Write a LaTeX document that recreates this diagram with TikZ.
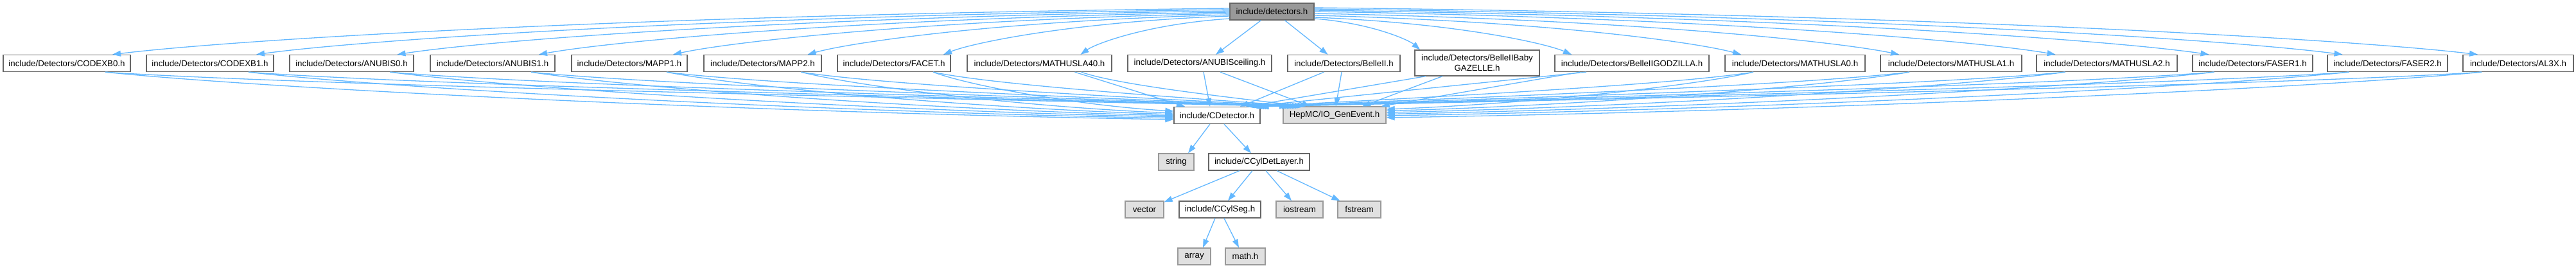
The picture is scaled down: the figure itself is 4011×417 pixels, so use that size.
\documentclass[tikz,border=0pt]{standalone}
\usepackage{fontspec}
\setmainfont{Liberation Sans}
\usetikzlibrary{arrows.meta,calc}
\definecolor{cdk}{HTML}{666666}
\definecolor{cmd}{HTML}{999999}
\definecolor{clt}{HTML}{E0E0E0}
\definecolor{cedge}{HTML}{63B8FF}
\newcommand{\myedge}[6]{%
 \draw[dep] let \p1=(#1), \p2=(#2) in (\p1) .. controls ({\x1+#3*(\x2-\x1)},{\y1+#4*(\y2-\y1)}) and ({\x2-#5*(\x2-\x1)},{\y2-#6*(\y2-\y1)}) .. (\p2);}
\tikzset{
 nbox/.style={draw=cdk, fill=white, line width=1.3pt, inner sep=0pt, minimum height=26pt, font=\fontsize{13.3}{16}\selectfont, text=black, align=center},
 ext/.style={nbox, draw=cmd, fill=clt},
 root/.style={nbox, fill=cmd, draw=cdk},
 dep/.style={draw=cedge, line width=1.3pt, -{Triangle[length=13pt,width=9pt]}}
}
\begin{document}
\begin{tikzpicture}[x=1pt,y=1pt]
\fill[white] (0,0) rectangle (4011,-417);
\useasboundingbox (0,0) rectangle (4011,-417);
% root
\node[root, minimum width=131pt] (top) at (1980.5,-18) {include/detectors.h};
% row 2
\node[nbox, minimum width=198pt] (cb0) at (104,-98.5) {include/Detectors/CODEXB0.h};
\node[nbox, minimum width=198pt] (cb1) at (327,-98.5) {include/Detectors/CODEXB1.h};
\node[nbox, minimum width=193pt] (an0) at (547.5,-98.5) {include/Detectors/ANUBIS0.h};
\node[nbox, minimum width=194pt] (an1) at (767,-98.5) {include/Detectors/ANUBIS1.h};
\node[nbox, minimum width=180pt] (mp1) at (980,-98.5) {include/Detectors/MAPP1.h};
\node[nbox, minimum width=183pt] (mp2) at (1187.5,-98.5) {include/Detectors/MAPP2.h};
\node[nbox, minimum width=176pt] (fac) at (1392,-98.5) {include/Detectors/FACET.h};
\node[nbox, minimum width=225pt] (m40) at (1618.5,-98.5) {include/Detectors/MATHUSLA40.h};
\node[nbox, minimum width=224pt] (anc) at (1868,-98.5) {include/Detectors/ANUBISceiling.h};
\node[nbox, minimum width=175pt] (b2) at (2092.5,-98.5) {include/Detectors/BelleII.h};
\node[nbox, minimum width=194pt, minimum height=40pt] (gaz) at (2300,-98) {include/Detectors/BelleIIBaby\\GAZELLE.h};
\node[nbox, minimum width=240pt] (god) at (2541,-98.5) {include/Detectors/BelleIIGODZILLA.h};
\node[nbox, minimum width=218pt] (m0) at (2795,-98.5) {include/Detectors/MATHUSLA0.h};
\node[nbox, minimum width=220pt] (m1) at (3038,-98.5) {include/Detectors/MATHUSLA1.h};
\node[nbox, minimum width=219pt] (m2) at (3280.5,-98.5) {include/Detectors/MATHUSLA2.h};
\node[nbox, minimum width=187pt] (f1) at (3507.5,-98.5) {include/Detectors/FASER1.h};
\node[nbox, minimum width=187pt] (f2) at (3717.5,-98.5) {include/Detectors/FASER2.h};
\node[nbox, minimum width=172pt] (al) at (3921,-98.5) {include/Detectors/AL3X.h};
% row 3
\node[nbox, minimum width=134pt] (cdet) at (1895,-179.5) {include/CDetector.h};
\node[ext, minimum width=160pt] (hep) at (2078,-179) {HepMC/IO\_GenEvent.h};
% row 4
\node[ext, minimum width=55pt] (str) at (1831.5,-252) {string};
\node[nbox, minimum width=157pt] (cyl) at (1960.5,-252) {include/CCylDetLayer.h};
% row 5
\node[ext, minimum width=60pt] (vec) at (1782,-326) {vector};
\node[nbox, minimum width=127pt] (seg) at (1899.5,-326) {include/CCylSeg.h};
\node[ext, minimum width=73pt] (ios) at (2023.5,-326) {iostream};
\node[ext, minimum width=67pt] (fst) at (2116.5,-326) {fstream};
% row 6
\node[ext, minimum width=51pt] (arr) at (1859.5,-399) {array};
\node[ext, minimum width=62pt] (mth) at (1939,-399) {math.h};

% root -> detectors
\myedge{[yshift=5pt]top.west}{[xshift=71pt]cb0.north}{0.55}{0.15}{0.1}{0.3}
\myedge{[yshift=3pt]top.west}{[xshift=72pt]cb1.north}{0.55}{0.15}{0.1}{0.3}
\myedge{[yshift=1pt]top.west}{[xshift=71pt]an0.north}{0.55}{0.15}{0.1}{0.3}
\myedge{[yshift=-1pt]top.west}{[xshift=72pt]an1.north}{0.55}{0.15}{0.1}{0.3}
\myedge{[yshift=-3pt]top.west}{[xshift=68pt]mp1.north}{0.55}{0.15}{0.1}{0.3}
\myedge{[yshift=-5pt]top.west}{[xshift=70pt]mp2.north}{0.55}{0.15}{0.1}{0.3}
\myedge{[yshift=-7pt]top.west}{[xshift=77pt]fac.north}{0.55}{0.15}{0.1}{0.3}
\myedge{[yshift=-11pt]top.west}{[xshift=64pt]m40.north}{0.55}{0.15}{0.1}{0.3}
\draw[dep] ([xshift=-17pt]top.south) -- ([xshift=25pt]anc.north);
\draw[dep] ([xshift=20pt]top.south) -- ([xshift=-25pt]b2.north);
\myedge{[yshift=-11pt]top.east}{[xshift=-89pt]gaz.north}{0.55}{0.15}{0.1}{0.3}
\myedge{[yshift=-9pt]top.east}{[xshift=-94pt]god.north}{0.55}{0.15}{0.1}{0.3}
\myedge{[yshift=-6pt]top.east}{[xshift=-84pt]m0.north}{0.55}{0.15}{0.1}{0.3}
\myedge{[yshift=-3pt]top.east}{[xshift=-81pt]m1.north}{0.55}{0.15}{0.1}{0.3}
\myedge{[yshift=0pt]top.east}{[xshift=-80pt]m2.north}{0.55}{0.15}{0.1}{0.3}
\myedge{[yshift=2pt]top.east}{[xshift=-68pt]f1.north}{0.55}{0.15}{0.1}{0.3}
\myedge{[yshift=4pt]top.east}{[xshift=-70pt]f2.north}{0.55}{0.15}{0.1}{0.3}
\myedge{[yshift=6pt]top.east}{[xshift=-63pt]al.north}{0.55}{0.15}{0.1}{0.3}

% detectors -> CDetector / HepMC (left side)
\myedge{[xshift=60pt]cb0.south}{[yshift=-6.5pt]cdet.west}{0.15}{0.35}{0.4}{0.15}
\myedge{[xshift=60pt]cb0.south}{[xshift=-73pt]hep.north}{0.15}{0.35}{0.4}{0.3}
\myedge{[xshift=60pt]cb1.south}{[yshift=-4.5pt]cdet.west}{0.15}{0.35}{0.4}{0.15}
\myedge{[xshift=60pt]cb1.south}{[xshift=-69pt]hep.north}{0.15}{0.35}{0.4}{0.3}
\myedge{[xshift=60pt]an0.south}{[yshift=-2.5pt]cdet.west}{0.15}{0.35}{0.4}{0.15}
\myedge{[xshift=60pt]an0.south}{[xshift=-65pt]hep.north}{0.15}{0.35}{0.4}{0.3}
\myedge{[xshift=60pt]an1.south}{[yshift=-0.5pt]cdet.west}{0.15}{0.35}{0.4}{0.15}
\myedge{[xshift=60pt]an1.south}{[xshift=-61pt]hep.north}{0.15}{0.35}{0.4}{0.3}
\myedge{[xshift=58pt]mp1.south}{[yshift=1.5pt]cdet.west}{0.15}{0.35}{0.4}{0.15}
\myedge{[xshift=58pt]mp1.south}{[xshift=-57pt]hep.north}{0.15}{0.35}{0.4}{0.3}
\myedge{[xshift=60pt]mp2.south}{[yshift=3.5pt]cdet.west}{0.15}{0.35}{0.4}{0.15}
\myedge{[xshift=60pt]mp2.south}{[xshift=-53pt]hep.north}{0.15}{0.35}{0.4}{0.3}
\myedge{[xshift=61pt]fac.south}{[yshift=6.5pt]cdet.west}{0.15}{0.35}{0.4}{0.15}
\myedge{[xshift=61pt]fac.south}{[xshift=-49pt]hep.north}{0.15}{0.35}{0.4}{0.3}
\myedge{[xshift=55pt]m40.south}{[xshift=-50pt]cdet.north}{0.3}{0.3}{0.3}{0.3}
\myedge{[xshift=65pt]m40.south}{[xshift=-45pt]hep.north}{0.15}{0.35}{0.4}{0.3}
% middle
\draw[dep] ([xshift=6pt]anc.south) -- ([xshift=-11pt]cdet.north);
\myedge{[xshift=32pt]anc.south}{[xshift=-38pt]hep.north}{0.3}{0.3}{0.3}{0.3}
\draw[dep] ([xshift=-31pt]b2.south) -- ([xshift=36pt]cdet.north);
\draw[dep] ([xshift=-3.5pt]b2.south) -- ([xshift=2pt]hep.north);
\draw[dep] ([xshift=-80pt]gaz.south) -- ([xshift=45pt]cdet.north);
\draw[dep] ([xshift=-54pt]gaz.south) -- ([xshift=43pt]hep.north);
\myedge{[xshift=-71pt]god.south}{[xshift=-17pt]cdet.north east}{0.3}{0.3}{0.3}{0.3}
\draw[dep] ([xshift=-81pt]god.south) -- ([xshift=-8pt]hep.north east);
% right side
\myedge{[xshift=-65pt]m0.south}{[yshift=9pt]hep.east}{0.15}{0.35}{0.4}{0.15}
\myedge{[xshift=-65pt]m0.south}{[xshift=-14pt]cdet.north east}{0.15}{0.35}{0.4}{0.3}
\myedge{[xshift=-65pt]m1.south}{[yshift=6.5pt]hep.east}{0.15}{0.35}{0.4}{0.15}
\myedge{[xshift=-65pt]m1.south}{[xshift=-11pt]cdet.north east}{0.15}{0.35}{0.4}{0.3}
\myedge{[xshift=-65pt]m2.south}{[yshift=4pt]hep.east}{0.15}{0.35}{0.4}{0.15}
\myedge{[xshift=-65pt]m2.south}{[xshift=-8pt]cdet.north east}{0.15}{0.35}{0.4}{0.3}
\myedge{[xshift=-60pt]f1.south}{[yshift=1.5pt]hep.east}{0.15}{0.35}{0.4}{0.15}
\myedge{[xshift=-60pt]f1.south}{[xshift=-5pt]cdet.north east}{0.15}{0.35}{0.4}{0.3}
\myedge{[xshift=-60pt]f2.south}{[yshift=-1pt]hep.east}{0.15}{0.35}{0.4}{0.15}
\myedge{[xshift=-60pt]f2.south}{[xshift=-2pt]cdet.north east}{0.15}{0.35}{0.4}{0.3}
\myedge{[xshift=-57pt]al.south}{[yshift=-4pt]hep.east}{0.15}{0.35}{0.4}{0.15}
\myedge{[xshift=-57pt]al.south}{[xshift=0pt]cdet.north east}{0.15}{0.35}{0.4}{0.3}

% lower tree
\draw[dep] ([xshift=-11pt]cdet.south) -- ([xshift=18.5pt]str.north);
\draw[dep] ([xshift=11pt]cdet.south) -- ([xshift=-12.5pt]cyl.north);
\draw[dep] ([xshift=-30.5pt]cyl.south) -- ([yshift=-2pt]vec.north east);
\draw[dep] ([xshift=-10.5pt]cyl.south) -- ([xshift=12.5pt]seg.north);
\draw[dep] ([xshift=10.5pt]cyl.south) -- ([xshift=-12.5pt]ios.north);
\draw[dep] ([xshift=27.5pt]cyl.south) -- ([xshift=4pt]fst.north west);
\draw[dep] ([xshift=-7.5pt]seg.south) -- ([xshift=13.5pt]arr.north);
\draw[dep] ([xshift=6.5pt]seg.south) -- ([xshift=-10pt]mth.north);
\end{tikzpicture}
\end{document}
